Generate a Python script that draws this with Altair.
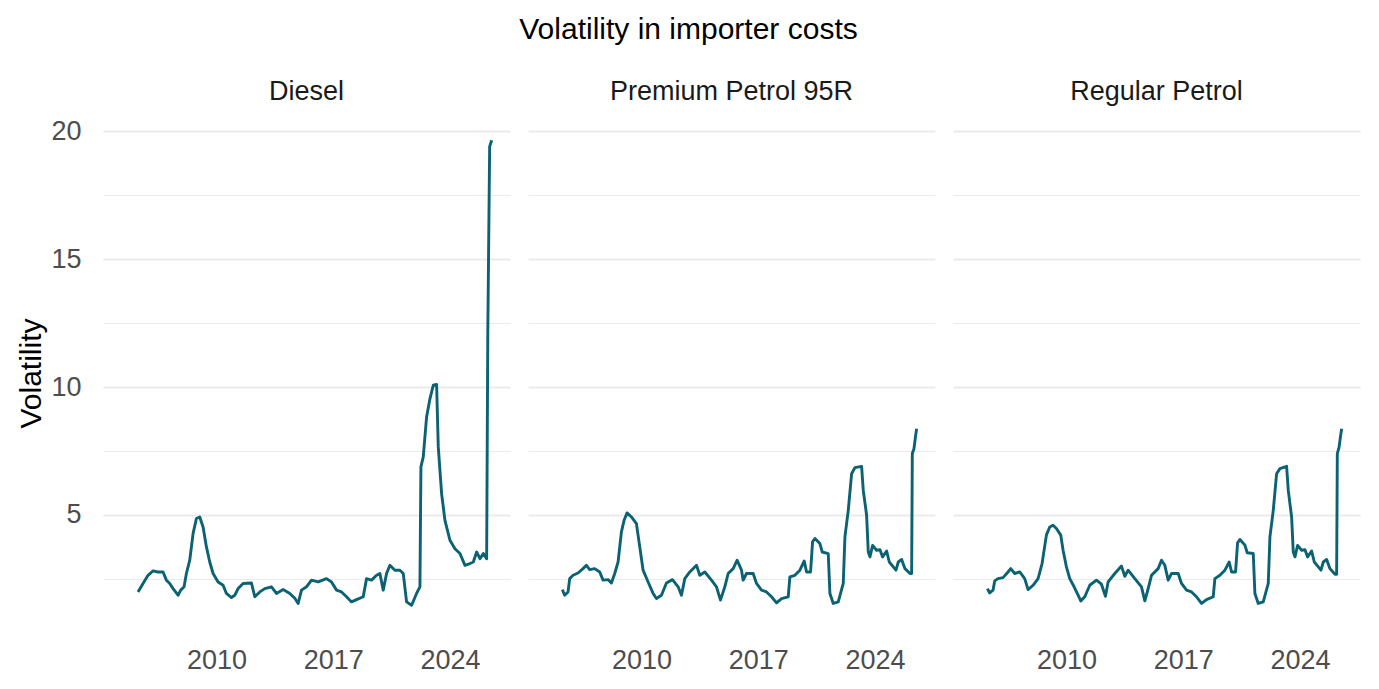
import altair as alt
import pandas as pd

fuels = ["Diesel", "Premium Petrol 95R", "Regular Petrol"]

diesel_year = [2005.30, 2005.60, 2005.90, 2006.20, 2006.50, 2006.80, 2007.00, 2007.20, 2007.40, 2007.70,
               2007.86, 2008.06, 2008.20, 2008.40, 2008.60, 2008.80, 2009.00, 2009.20, 2009.40, 2009.60,
               2009.80, 2010.10, 2010.40, 2010.60, 2010.90, 2011.10, 2011.30, 2011.60, 2012.10, 2012.30,
               2012.60, 2012.90, 2013.30, 2013.60, 2014.00, 2014.40, 2014.70, 2014.90, 2015.10, 2015.40,
               2015.70, 2016.10, 2016.60, 2016.90, 2017.20, 2017.50, 2017.80, 2018.10, 2018.40, 2018.80,
               2019.00, 2019.30, 2019.60, 2019.80, 2020.00, 2020.20, 2020.40, 2020.70, 2021.00, 2021.20,
               2021.40, 2021.70, 2022.00, 2022.20, 2022.26, 2022.40, 2022.60, 2022.80, 2023.00, 2023.20,
               2023.30, 2023.50, 2023.70, 2024.00, 2024.30, 2024.60, 2024.90, 2025.20, 2025.40, 2025.60,
               2025.80, 2026.00, 2026.20, 2026.27, 2026.38, 2026.50]
diesel_vol = [1.99, 2.32, 2.64, 2.81, 2.77, 2.77, 2.45, 2.32, 2.12, 1.86,
              2.06, 2.19, 2.71, 3.23, 4.27, 4.86, 4.92, 4.53, 3.75, 3.16,
              2.71, 2.38, 2.25, 1.93, 1.77, 1.86, 2.12, 2.32, 2.34, 1.80,
              1.99, 2.12, 2.19, 1.93, 2.08, 1.93, 1.74, 1.54, 2.06, 2.19,
              2.45, 2.38, 2.51, 2.38, 2.06, 1.99, 1.80, 1.60, 1.69, 1.80,
              2.51, 2.45, 2.64, 2.71, 2.06, 2.71, 3.03, 2.84, 2.84, 2.71,
              1.60, 1.47, 1.93, 2.19, 6.88, 7.27, 8.83, 9.54, 10.07, 10.10,
              7.66, 5.83, 4.79, 4.01, 3.68, 3.49, 3.03, 3.10, 3.16, 3.55,
              3.29, 3.49, 3.29, 12.2, 19.4, 19.65]

premium_year = [2005.26, 2005.40, 2005.60, 2005.70, 2005.90, 2006.20, 2006.50, 2006.70, 2006.90, 2007.20,
                2007.50, 2007.70, 2008.00, 2008.20, 2008.40, 2008.60, 2008.80, 2008.96, 2009.14, 2009.40,
                2009.70, 2009.90, 2010.10, 2010.40, 2010.70, 2010.90, 2011.20, 2011.50, 2011.86, 2012.20,
                2012.40, 2012.60, 2012.90, 2013.30, 2013.50, 2013.80, 2014.20, 2014.50, 2014.74, 2015.00,
                2015.20, 2015.50, 2015.74, 2016.00, 2016.10, 2016.30, 2016.70, 2016.90, 2017.20, 2017.50,
                2017.80, 2018.10, 2018.40, 2018.80, 2018.90, 2019.20, 2019.50, 2019.76, 2019.90, 2020.14,
                2020.26, 2020.40, 2020.70, 2020.84, 2021.20, 2021.30, 2021.50, 2021.80, 2022.10, 2022.20,
                2022.40, 2022.60, 2022.80, 2023.20, 2023.30, 2023.50, 2023.60, 2023.70, 2023.86, 2024.10,
                2024.30, 2024.46, 2024.70, 2024.86, 2025.10, 2025.26, 2025.40, 2025.60, 2025.80, 2026.10,
                2026.20, 2026.24, 2026.34, 2026.44, 2026.50]
premium_vol = [2.08, 1.86, 1.99, 2.51, 2.64, 2.73, 2.90, 3.03, 2.86, 2.90,
               2.77, 2.45, 2.47, 2.34, 2.71, 3.16, 4.34, 4.79, 5.08, 4.92,
               4.66, 3.75, 2.84, 2.38, 1.93, 1.73, 1.86, 2.34, 2.47, 2.19,
               1.86, 2.51, 2.77, 3.03, 2.64, 2.77, 2.45, 2.19, 1.67, 2.19,
               2.71, 2.90, 3.23, 2.84, 2.45, 2.71, 2.71, 2.32, 2.06, 1.99,
               1.80, 1.56, 1.73, 1.80, 2.58, 2.64, 2.84, 3.20, 2.77, 2.77,
               3.95, 4.08, 3.88, 3.55, 3.49, 1.93, 1.54, 1.60, 2.32, 4.14,
               5.18, 6.61, 6.85, 6.90, 5.96, 4.99, 3.55, 3.36, 3.81, 3.62,
               3.64, 3.36, 3.59, 3.16, 2.97, 2.84, 3.16, 3.26, 2.90, 2.71,
               2.71, 7.40, 7.59, 8.11, 8.37]

regular_year = [2005.26, 2005.40, 2005.60, 2005.70, 2005.90, 2006.20, 2006.50, 2006.66, 2006.90, 2007.20,
                2007.50, 2007.70, 2008.00, 2008.30, 2008.54, 2008.80, 2009.00, 2009.20, 2009.40, 2009.66,
                2009.80, 2010.00, 2010.20, 2010.46, 2010.70, 2010.86, 2011.10, 2011.40, 2011.80, 2012.10,
                2012.34, 2012.50, 2012.90, 2013.30, 2013.50, 2013.70, 2014.10, 2014.50, 2014.70, 2014.90,
                2015.10, 2015.50, 2015.70, 2015.90, 2016.10, 2016.30, 2016.70, 2016.90, 2017.20, 2017.50,
                2017.80, 2018.10, 2018.40, 2018.80, 2018.90, 2019.20, 2019.50, 2019.76, 2019.90, 2020.14,
                2020.26, 2020.40, 2020.70, 2020.84, 2021.20, 2021.30, 2021.50, 2021.80, 2022.10, 2022.20,
                2022.40, 2022.60, 2022.80, 2023.20, 2023.30, 2023.50, 2023.60, 2023.70, 2023.86, 2024.10,
                2024.30, 2024.46, 2024.70, 2024.86, 2025.10, 2025.26, 2025.40, 2025.60, 2025.80, 2026.10,
                2026.20, 2026.24, 2026.34, 2026.44, 2026.50]
regular_vol = [2.12, 1.95, 2.06, 2.42, 2.51, 2.55, 2.77, 2.90, 2.71, 2.77,
               2.51, 2.08, 2.25, 2.51, 3.10, 4.21, 4.53, 4.60, 4.47, 4.21,
               3.62, 2.97, 2.51, 2.19, 1.86, 1.64, 1.80, 2.25, 2.45, 2.29,
               1.82, 2.38, 2.71, 3.00, 2.60, 2.84, 2.51, 2.19, 1.64, 2.12,
               2.64, 2.90, 3.23, 3.03, 2.45, 2.71, 2.71, 2.32, 2.06, 1.99,
               1.80, 1.54, 1.69, 1.80, 2.51, 2.64, 2.84, 3.16, 2.77, 2.77,
               3.91, 4.04, 3.82, 3.52, 3.49, 1.93, 1.54, 1.60, 2.32, 4.14,
               5.18, 6.61, 6.81, 6.90, 5.96, 4.92, 3.55, 3.36, 3.81, 3.62,
               3.64, 3.36, 3.59, 3.16, 2.97, 2.84, 3.16, 3.26, 2.90, 2.68,
               2.68, 7.40, 7.63, 8.11, 8.37]

x_ticks = [2010, 2017, 2024]
y_grid = [2.5, 5, 7.5, 10, 12.5, 15, 17.5, 20]

rows = []
for fuel, ys, vs in zip(fuels, [diesel_year, premium_year, regular_year],
                        [diesel_vol, premium_vol, regular_vol]):
    for i, (yr, v) in enumerate(zip(ys, vs)):
        rows.append({"fuel": fuel, "year": yr, "vol": v, "order": i})
df = pd.DataFrame(rows)

FONT = "Liberation Sans"

base = alt.Chart(df).mark_line(color="#0A6273", strokeWidth=2.9, strokeJoin="round").encode(
    x=alt.X("year:Q",
            scale=alt.Scale(domain=[2003.2, 2027.6], nice=False, zero=False),
            axis=alt.Axis(values=x_ticks, format="d", title=None, grid=False, ticks=False,
                          domain=False, labelFontSize=27, labelColor="#4D4D4D",
                          labelPadding=18, labelFont=FONT)),
    y=alt.Y("vol:Q",
            scale=alt.Scale(domain=[0.54, 20.56], nice=False, zero=False),
            axis=alt.Axis(values=y_grid, format="d",
                          labelExpr="datum.value % 5 === 0 ? datum.label : ''",
                          title="Volatility", titleFontSize=30, titleFontWeight="normal",
                          titleColor="#000000", titleFont=FONT, titlePadding=4,
                          grid=True, gridColor="#EBEBEB",
                          gridWidth={"condition": {"test": "datum.value % 5 === 0", "value": 2.2},
                                     "value": 1.2},
                          ticks=False, domain=False, labelFontSize=27, labelColor="#4D4D4D",
                          labelPadding=22, labelFont=FONT)),
    order="order:Q",
).properties(width=407, height=512)

chart = base.facet(
    column=alt.Column("fuel:N", sort=fuels, title=None,
                      header=alt.Header(labelFontSize=27, labelColor="#1A1A1A", labelFont=FONT,
                                        labelPadding=11)),
    spacing=18,
).properties(
    title=alt.TitleParams("Volatility in importer costs", fontSize=30, fontWeight="normal",
                          font=FONT, color="#000000", anchor="middle", offset=33),
    padding={"left": 16, "top": 15, "right": 17, "bottom": 10},
    background="white",
).configure_view(stroke=None)

chart.save("out.html", embed_options={"renderer": "svg", "actions": False})
